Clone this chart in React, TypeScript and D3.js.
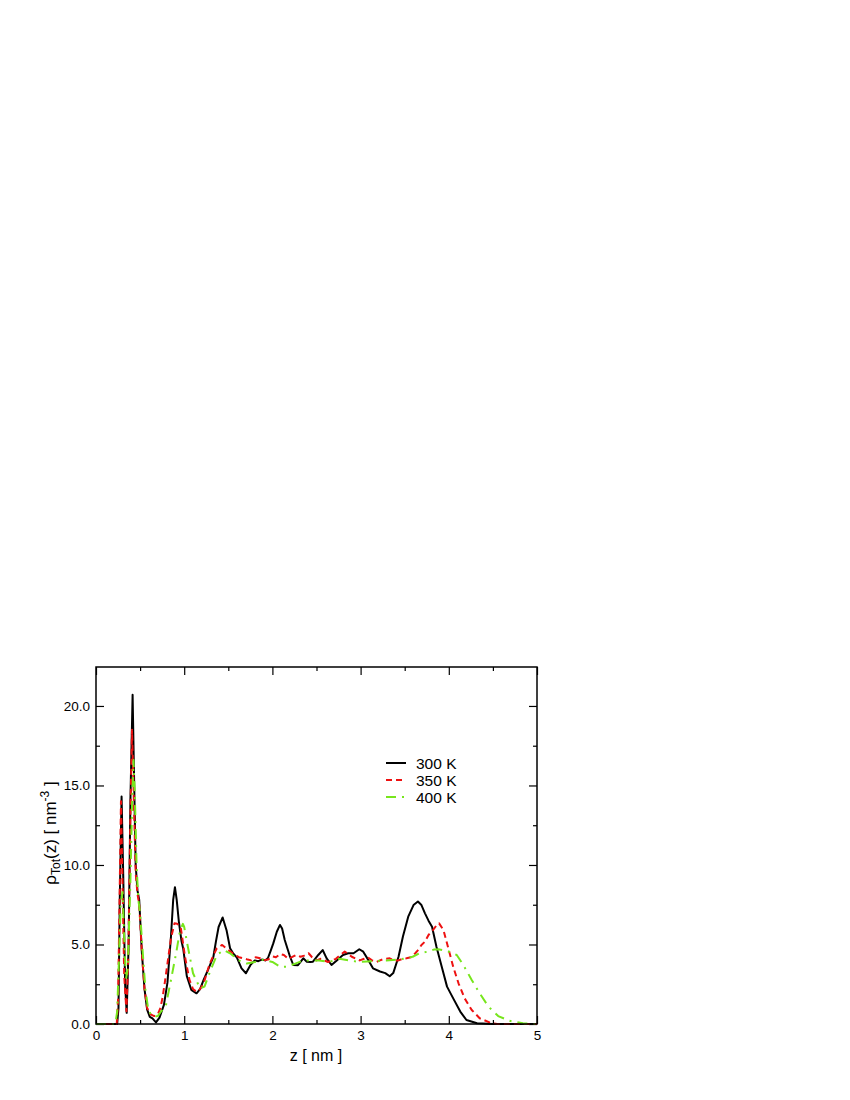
import React, { useEffect, useRef } from 'react';
import * as d3 from 'd3';

// density profiles, z in nm
const z300 = [0, 0.24, 0.255, 0.27, 0.29, 0.31, 0.33, 0.348, 0.37, 0.39, 0.415, 0.43, 0.45, 0.47, 0.49, 0.52, 0.55, 0.58, 0.61, 0.64, 0.68, 0.72, 0.77, 0.81, 0.85, 0.875, 0.895, 0.915, 0.94, 0.97, 0.99, 1.03, 1.08, 1.14, 1.18, 1.22, 1.27, 1.33, 1.36, 1.39, 1.436, 1.48, 1.52, 1.56, 1.595, 1.65, 1.7, 1.75, 1.8, 1.84, 1.88, 1.92, 1.95, 1.98, 2.01, 2.05, 2.086, 2.11, 2.14, 2.2, 2.237, 2.29, 2.35, 2.39, 2.43, 2.46, 2.52, 2.57, 2.615, 2.67, 2.73, 2.8, 2.86, 2.92, 2.985, 3.03, 3.09, 3.14, 3.22, 3.28, 3.33, 3.37, 3.43, 3.48, 3.54, 3.6, 3.65, 3.69, 3.73, 3.77, 3.81, 3.86, 3.92, 3.98, 4.05, 4.13, 4.2, 4.32, 4.5, 5];
const rho300 = [0, 0, 1.0, 8, 14.3, 9, 2.5, 0.7, 5, 14, 20.7, 16, 10, 8.4, 7.8, 4.5, 2.2, 0.9, 0.45, 0.35, 0.1, 0.4, 1.2, 2.6, 5.5, 7.8, 8.6, 7.8, 6.4, 5.2, 4.7, 3.0, 2.15, 1.93, 2.2, 2.77, 3.4, 4.2, 5.2, 6.1, 6.7, 5.9, 4.76, 4.4, 4.2, 3.5, 3.19, 3.7, 4.0, 3.95, 4.05, 4.0, 4.15, 4.6, 5.07, 5.8, 6.23, 6.0, 5.28, 4.23, 3.71, 3.7, 4.13, 3.92, 3.9, 3.92, 4.34, 4.65, 4.13, 3.71, 4.0, 4.34, 4.45, 4.45, 4.7, 4.55, 4.0, 3.5, 3.3, 3.2, 3.0, 3.2, 4.23, 5.5, 6.75, 7.48, 7.7, 7.48, 6.96, 6.5, 6.12, 4.86, 3.6, 2.35, 1.61, 0.78, 0.25, 0.05, 0, 0];

const z350 = [0, 0.235, 0.25, 0.265, 0.283, 0.3, 0.32, 0.345, 0.365, 0.39, 0.408, 0.425, 0.45, 0.47, 0.49, 0.52, 0.55, 0.58, 0.62, 0.66, 0.7, 0.73, 0.756, 0.78, 0.81, 0.85, 0.89, 0.92, 0.96, 1.01, 1.06, 1.1, 1.14, 1.18, 1.22, 1.29, 1.33, 1.37, 1.43, 1.5, 1.58, 1.62, 1.67, 1.72, 1.76, 1.81, 1.86, 1.9, 1.95, 2.0, 2.04, 2.09, 2.13, 2.18, 2.22, 2.27, 2.32, 2.36, 2.41, 2.45, 2.5, 2.55, 2.59, 2.63, 2.68, 2.72, 2.77, 2.82, 2.86, 2.9, 2.95, 2.99, 3.04, 3.08, 3.13, 3.18, 3.22, 3.27, 3.33, 3.38, 3.43, 3.48, 3.52, 3.57, 3.62, 3.66, 3.69, 3.73, 3.77, 3.82, 3.86, 3.89, 3.94, 3.99, 4.05, 4.11, 4.18, 4.26, 4.35, 4.47, 4.55, 5];
const rho350 = [0, 0, 1.5, 7, 14.0, 9, 3, 0.8, 4, 13, 18.5, 15, 9.5, 8.2, 7.5, 4.5, 2.2, 1.0, 0.6, 0.5, 0.6, 1.0, 1.7, 2.6, 3.8, 5.4, 6.33, 6.3, 6.1, 4.2, 2.77, 2.2, 2.03, 2.2, 2.56, 3.8, 4.3, 4.76, 4.97, 4.65, 4.34, 4.2, 4.13, 4.05, 4.0, 4.2, 4.13, 4.0, 4.05, 4.25, 4.2, 4.4, 4.34, 4.1, 4.2, 4.35, 4.23, 4.3, 4.45, 4.2, 4.0, 4.1, 4.0, 3.9, 4.0, 4.1, 4.34, 4.55, 4.4, 4.23, 4.1, 4.0, 4.1, 4.2, 4.0, 3.9, 4.0, 4.1, 4.13, 4.0, 4.0, 4.1, 4.13, 4.2, 4.45, 4.7, 4.97, 5.18, 5.6, 5.9, 6.2, 6.33, 5.9, 4.86, 3.6, 2.56, 1.61, 0.88, 0.36, 0.08, 0, 0];

const z400 = [0, 0.22, 0.24, 0.26, 0.28, 0.3, 0.32, 0.34, 0.36, 0.39, 0.41, 0.425, 0.44, 0.46, 0.48, 0.5, 0.53, 0.56, 0.59, 0.62, 0.66, 0.7, 0.74, 0.79, 0.85, 0.91, 0.95, 0.985, 1.0, 1.04, 1.1, 1.18, 1.23, 1.3, 1.37, 1.45, 1.52, 1.62, 1.71, 1.8, 1.9, 2.0, 2.09, 2.17, 2.26, 2.35, 2.42, 2.53, 2.64, 2.76, 2.87, 2.99, 3.14, 3.29, 3.44, 3.59, 3.67, 3.76, 3.83, 3.88, 3.98, 4.09, 4.165, 4.26, 4.35, 4.45, 4.56, 4.69, 4.84, 4.98, 5];
const rho400 = [0, 0, 0.8, 4, 7.5, 8.3, 5.5, 2.8, 3.5, 9, 14, 16.6, 14.5, 10, 7.8, 7.0, 4.5, 2.2, 1.0, 0.6, 0.45, 0.5, 0.8, 1.1, 2.77, 4.5, 5.8, 6.3, 6.1, 4.9, 3.19, 2.24, 2.35, 3.4, 4.34, 4.65, 4.45, 4.0, 3.8, 3.9, 4.05, 3.9, 3.6, 3.6, 3.8, 4.0, 4.0, 4.0, 3.9, 4.1, 4.0, 3.9, 3.95, 4.0, 4.05, 4.23, 4.45, 4.55, 4.68, 4.7, 4.6, 4.34, 3.71, 2.77, 1.93, 1.09, 0.5, 0.2, 0.05, 0, 0];

const seriesLabels = ['300 K', '350 K', '400 K'];
const xMajor = [0, 1, 2, 3, 4, 5];
const xMinor = [0.5, 1.5, 2.5, 3.5, 4.5];
const yMajor = [0, 5, 10, 15, 20];
const yMinor = [2.5, 7.5, 12.5, 17.5];

const font = '"Liberation Sans", Arial, Helvetica, sans-serif';

const App = () => {
  const ref = useRef<SVGSVGElement>(null);

  useEffect(() => {
    const svg = d3.select(ref.current);
    svg.selectAll('*').remove();

    const left = 96, right = 537, top = 667, bottom = 1024;

    const x = d3.scaleLinear().domain([0, 5]).range([left, right]);
    const y = d3.scaleLinear().domain([0, 22.45]).range([bottom, top]);

    const styleAxis = (g, size) => {
      g.select('.domain').remove();
      g.selectAll('line').attr('stroke', '#000').attr('stroke-width', 1.2);
      g.selectAll('text').attr('fill', '#000').style('font-family', font).style('font-size', size);
    };

    // major + minor ticks, pointing inward, on all four sides
    svg.append('g').attr('transform', `translate(0,${bottom})`)
      .call(d3.axisBottom(x).tickValues(xMajor).tickFormat(d3.format('d')).tickSize(-8).tickPadding(6))
      .call(g => styleAxis(g, '13.5px'));
    svg.append('g').attr('transform', `translate(0,${bottom})`)
      .call(d3.axisBottom(x).tickValues(xMinor).tickFormat(() => '').tickSize(-4))
      .call(g => styleAxis(g, '13.5px'));
    svg.append('g').attr('transform', `translate(0,${top})`)
      .call(d3.axisTop(x).tickValues(xMajor).tickFormat(() => '').tickSize(-8))
      .call(g => styleAxis(g, '13.5px'));
    svg.append('g').attr('transform', `translate(0,${top})`)
      .call(d3.axisTop(x).tickValues(xMinor).tickFormat(() => '').tickSize(-4))
      .call(g => styleAxis(g, '13.5px'));

    svg.append('g').attr('transform', `translate(${left},0)`)
      .call(d3.axisLeft(y).tickValues(yMajor).tickFormat(d3.format('.1f')).tickSize(-8).tickPadding(6))
      .call(g => styleAxis(g, '13.5px'));
    svg.append('g').attr('transform', `translate(${left},0)`)
      .call(d3.axisLeft(y).tickValues(yMinor).tickFormat(() => '').tickSize(-4))
      .call(g => styleAxis(g, '13.5px'));
    svg.append('g').attr('transform', `translate(${right},0)`)
      .call(d3.axisRight(y).tickValues(yMajor).tickFormat(() => '').tickSize(-8))
      .call(g => styleAxis(g, '13.5px'));
    svg.append('g').attr('transform', `translate(${right},0)`)
      .call(d3.axisRight(y).tickValues(yMinor).tickFormat(() => '').tickSize(-4))
      .call(g => styleAxis(g, '13.5px'));

    const line = d3.line<[number, number]>()
      .x(d => x(d[0]))
      .y(d => y(d[1]));

    const series = [
      { zs: z300, vs: rho300, color: '#000000', dash: null },
      { zs: z350, vs: rho350, color: '#ee1111', dash: '6,4' },
      { zs: z400, vs: rho400, color: '#77e61c', dash: '10,6,2,6' },
    ];

    // black first, the dashed ones on top as in the original
    series.forEach(s => {
      svg.append('path')
        .datum(s.zs.map((z, i) => [z, s.vs[i]] as [number, number]))
        .attr('fill', 'none')
        .attr('stroke', s.color)
        .attr('stroke-width', 2)
        .attr('stroke-linejoin', 'round')
        .attr('stroke-dasharray', s.dash)
        .attr('d', line);
    });

    // frame
    svg.append('rect')
      .attr('x', left).attr('y', top)
      .attr('width', right - left).attr('height', bottom - top)
      .attr('fill', 'none').attr('stroke', '#000').attr('stroke-width', 1.5);

    // legend
    const lg = svg.append('g').attr('transform', 'translate(386,763)');
    series.forEach((s, i) => {
      lg.append('line')
        .attr('x1', 0).attr('x2', 20)
        .attr('y1', i * 17).attr('y2', i * 17)
        .attr('stroke', s.color).attr('stroke-width', 2)
        .attr('stroke-dasharray', s.dash);
      lg.append('text')
        .attr('x', 30).attr('y', i * 17 + 5.5)
        .style('font-family', font).style('font-size', '15.5px')
        .text(seriesLabels[i]);
    });

    // axis titles
    svg.append('text')
      .attr('x', 316).attr('y', 1061)
      .attr('text-anchor', 'middle')
      .style('font-family', font).style('font-size', '16px')
      .attr('xml:space', 'preserve')
      .text('z [ nm ]');

    const yt = svg.append('text')
      .attr('transform', 'translate(56,833) rotate(-90)')
      .attr('text-anchor', 'middle')
      .style('font-family', font).style('font-size', '17px');
    yt.append('tspan').text('ρ');
    yt.append('tspan').attr('dy', 4).style('font-size', '12px').text('Tot');
    yt.append('tspan').attr('dy', -4).text('(z) [ nm');
    yt.append('tspan').attr('dy', -7).style('font-size', '12px').text('-3');
    yt.append('tspan').attr('dy', 7).text(' ]');
  }, []);

  return (
    <svg
      ref={ref}
      width={850}
      height={1100}
      style={{ position: 'absolute', left: 0, top: 0, background: '#fff' }}
    />
  );
};

export default App;
